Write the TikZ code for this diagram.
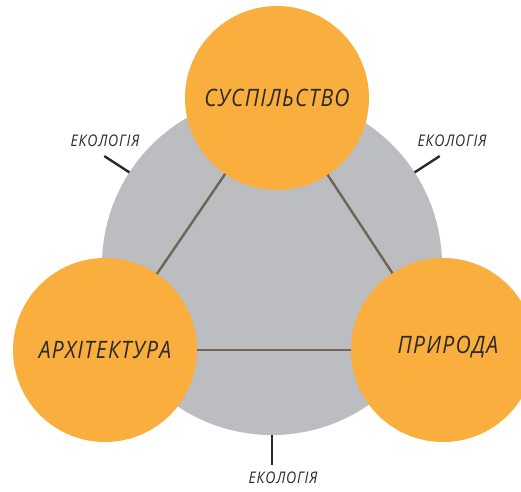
\documentclass[tikz,border=0pt]{standalone}
\usepackage{fontspec}
\setmainfont{Open Sans}
\newfontfamily\labfont[FakeStretch=0.88,LetterSpace=5]{Open Sans}
\definecolor{orng}{HTML}{F9AE3E}
\definecolor{grayc}{HTML}{BCBDC0}
\definecolor{linec}{HTML}{6E6458}
\definecolor{txtc}{HTML}{2A2A2A}
\begin{document}
\begin{tikzpicture}[x=1pt,y=1pt,
  bigcirc/.style={circle,fill=orng,minimum size=184pt,inner sep=0pt,outer sep=0pt,
    font=\labfont\itshape\fontsize{24}{24}\selectfont,text=txtc},
  ecocirc/.style={circle,fill=grayc,minimum size=340pt,inner sep=0pt,outer sep=0pt},
  rel/.style={draw=linec,line width=2.4pt},
  tickline/.style={draw=txtc,line width=2.4pt},
  ecolab/.style={font=\labfont\itshape\fontsize{16}{16}\selectfont,text=txtc,inner sep=0pt}]
\useasboundingbox (0,0) rectangle (521,491);
\node[ecocirc] (eco) at (272,226) {};
\node[bigcirc] (soc) at (277,393) {СУСПІЛЬСТВО};
\node[bigcirc] (arch) at (105,141) {АРХІТЕКТУРА};
\node[bigcirc] (nat) at (443,141) {};
\node[font=\labfont\itshape\fontsize{24}{24}\selectfont,text=txtc] (natlab) at (448,144) {ПРИРОДА};
\draw[rel] (soc) -- (arch);
\draw[rel] (soc) -- (nat);
\draw[rel] (arch) -- (nat);
\coordinate (e1) at ([shift={(147:200pt)}]eco.center);
\coordinate (e2) at ([shift={(33:200pt)}]eco.center);
\coordinate (e3) at ([shift={(270:200pt)}]eco.center);
\draw[tickline] (eco.147) -- (e1);
\draw[tickline] (eco.33) -- (e2);
\draw[tickline] (eco.270) -- (e3);
\node[ecolab] (l1) at (105,350) {ЕКОЛОГІЯ};
\node[ecolab] (l2) at (452,350) {ЕКОЛОГІЯ};
\node[ecolab] (l3) at (283,13) {ЕКОЛОГІЯ};
\end{tikzpicture}
\end{document}
